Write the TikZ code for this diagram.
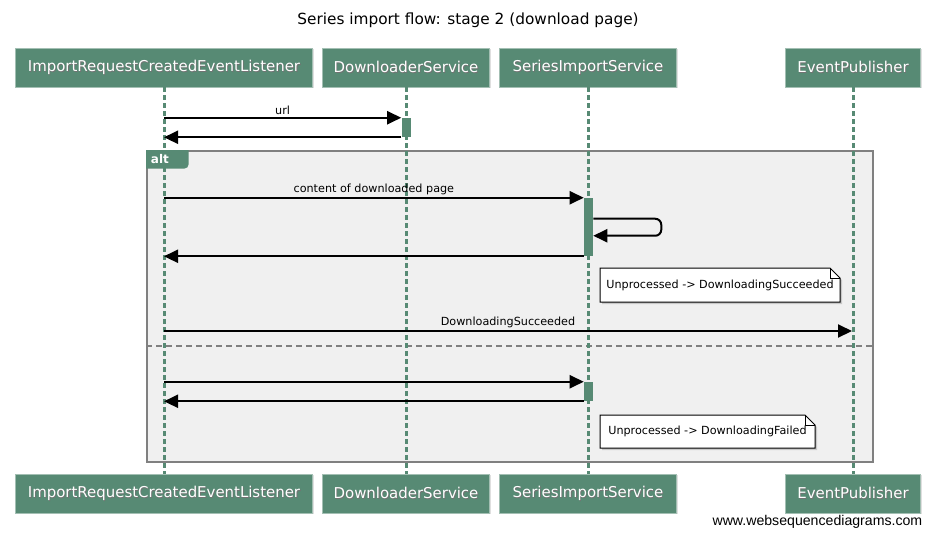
\documentclass[tikz,border=0pt]{standalone}
\usepackage{fontspec}
\setmainfont{DejaVu Sans}
\newfontfamily\wsdfont{Liberation Sans}
\usetikzlibrary{arrows.meta,shadows}

\newcommand{\shadowed}[1]{\makebox[0pt][l]{\hspace{0.6pt}\raisebox{-0.6pt}{\color{black!55}#1}}#1}

\begin{document}
\begin{tikzpicture}
	[x=0.75pt,y=-0.75pt,line cap=butt,
	%Styles
	actor/.style={rectangle,fill=actorcolor,draw=actorcolor!55!white,text=white,minimum height=29.25pt,inner sep=0pt,font=\fontsize{11.2}{13}\selectfont,drop shadow={shadow xshift=1pt,shadow yshift=-1pt,opacity=0.25}},
	lifeline/.style={actorcolor,line width=2.25pt,dash pattern=on 3.75pt off 2.25pt},
	message/.style={line width=1.5pt,-{Triangle[length=10.5pt,width=9.75pt]}},
	message text/.style={font=\fontsize{8.4}{10}\selectfont,inner sep=1.5pt},
	activation/.style={rectangle,fill=actorcolor,minimum width=6.75pt,inner sep=0pt},
	frame box/.style={rectangle,fill=framecolor,draw=black!50,line width=1.5pt,inner sep=0pt},
	alt tag/.style={inner sep=0pt,minimum width=31.5pt,minimum height=13.5pt},
	alt text/.style={inner sep=0pt,text=white,font=\bfseries\fontsize{9}{10}\selectfont},
	else line/.style={black!50,line width=1.5pt,dash pattern=on 4.5pt off 3pt},
	note shape/.style={draw,fill=white,line width=0.75pt,line join=miter,drop shadow={shadow xshift=1.5pt,shadow yshift=-1.5pt,opacity=0.35}},
	note text/.style={inner sep=0pt,font=\fontsize{8.4}{10}\selectfont},
	]
	
	%Colors
	\definecolor{actorcolor}{RGB}{87,138,116}	%participants and lifelines
	\definecolor{framecolor}{RGB}{240,240,240}	%alt frame
	
	\useasboundingbox (0,0) rectangle (936,537);
	
	%Title
	\node[font=\fontsize{11.5}{13}\selectfont] (title) at (468,20) {Series import flow: stage 2 (download page)};
	
	%The alt frame
	\node[frame box,minimum width=544.5pt,minimum height=233.25pt,anchor=north west] (alt frame) at (146,150) {};
	\node[alt tag,anchor=north west] (alt) at (alt frame.north west) {};
	\fill[actorcolor] (alt.north west) -- (alt.north east) -- ([yshift=3pt]alt.south east) arc[start angle=0,end angle=-90,radius=3pt] -- (alt.south west) -- cycle;
	\coordinate (else left) at (146,346);
	\coordinate (else right) at (872,346);
	\draw[else line] (else left) -- (else right);
	
	%Participants
	\node[actor,minimum width=222.75pt] (listener top) at (164,67.5) {\shadowed{ImportRequestCreatedEventListener}};
	\node[actor,minimum width=125.25pt] (downloader top) at (406,67.5) {\shadowed{DownloaderService}};
	\node[actor,minimum width=132.75pt] (import top) at (588,67.5) {\shadowed{SeriesImportService}};
	\node[actor,minimum width=101.25pt] (publisher top) at (853,67.5) {\shadowed{EventPublisher}};
	\node[actor,minimum width=222.75pt] (listener bottom) at (164,493.5) {\shadowed{ImportRequestCreatedEventListener}};
	\node[actor,minimum width=125.25pt] (downloader bottom) at (406,493.5) {\shadowed{DownloaderService}};
	\node[actor,minimum width=132.75pt] (import bottom) at (588,493.5) {\shadowed{SeriesImportService}};
	\node[actor,minimum width=101.25pt] (publisher bottom) at (853,493.5) {\shadowed{EventPublisher}};
	
	\foreach \p in {listener,downloader,import,publisher}
		\draw[lifeline] (\p\space top) -- (\p\space bottom);
	
	\node[alt text,anchor=west] (alt label) at ([xshift=3.5pt]alt.west) {alt};
	
	%Activations
	\node[activation,minimum height=14.25pt] (download act) at (406,127.5) {};
	\node[activation,minimum height=43.5pt] (parse act) at (588.5,227) {};
	\node[activation,minimum height=14.25pt] (fail act) at (588.5,391.5) {};
	
	%Lifeline points
	\coordinate (url from) at (listener top |- download act.north west);
	\coordinate (url back) at (listener top |- download act.south west);
	\coordinate (page from) at (listener top |- parse act.north west);
	\coordinate (self out) at ([yshift=-15.75pt]parse act.north east);
	\coordinate (self in) at ([yshift=-28.5pt]parse act.north east);
	\coordinate (page back) at (listener top |- parse act.south west);
	\coordinate (publish from) at (164,331);
	\coordinate (publish to) at (852,331);
	\coordinate (fail from) at (listener top |- fail act.north west);
	\coordinate (fail back) at (listener top |- fail act.south west);
	
	%Messages
	\draw[message] (url from) -- (download act.north west) node[message text,midway,above] {url};
	\draw[message] (download act.south west) -- (url back);
	\draw[message] (page from) -- (parse act.north west) node[message text,midway,above] {content of downloaded page};
	\draw[message,rounded corners=4.5pt] (self out) -- ++(68,0) |- (self in);
	\draw[message] (parse act.south west) -- (page back);
	\draw[message] (publish from) -- (publish to) node[message text,midway,above] {DownloadingSucceeded};
	\draw[message] (fail from) -- (fail act.north west);
	\draw[message] (fail act.south west) -- (fail back);
	
	%Notes
	\foreach \x/\y/\w/\h/\n/\t in {600/268/240/34/ok note/{Unprocessed -> DownloadingSucceeded},
			600/415/215/33/fail note/{Unprocessed -> DownloadingFailed}}{
		\path[note shape] (\x,\y+\h) -- (\x,\y) -- (\x+\w-10,\y) -- (\x+\w,\y+10) -- (\x+\w,\y+\h) -- cycle;
		\draw[line width=0.75pt] (\x+\w-10,\y) |- (\x+\w,\y+10);
		\node[note text] (\n) at (\x+\w/2,\y+\h/2) {\t};
	}
	
	\node[anchor=east,font=\wsdfont\fontsize{10.6}{12}\selectfont] (watermark) at (927,522) {www.websequencediagrams.com};
\end{tikzpicture}
\end{document}
